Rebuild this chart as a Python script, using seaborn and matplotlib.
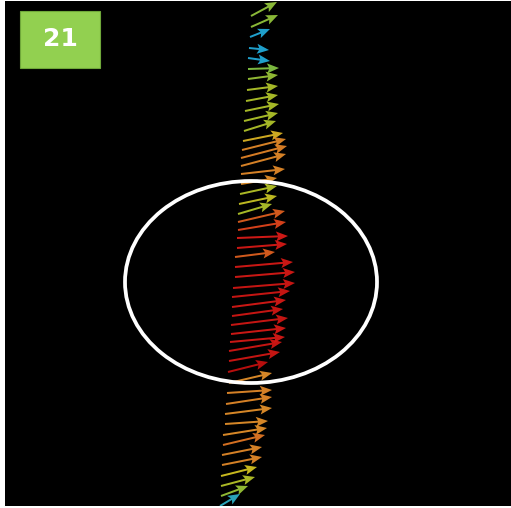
import numpy as np
import seaborn as sns
import matplotlib.pyplot as plt
from matplotlib.patches import Ellipse, Rectangle

# arrow tails and heads (pixel-like units, y grows downward)
tail_x = [251, 251, 250, 249, 248, 248, 248, 247, 246, 245, 244, 244, 243, 242, 241, 241, 241,
          241, 240, 239, 238, 238, 238, 237, 237, 235, 235, 235, 233, 232, 232, 232, 231, 231,
          230, 229, 229, 228, 229, 227, 226, 225, 225, 223, 223, 222, 222, 221, 221, 221, 220]
tail_y = [16, 27, 37, 48, 58, 69, 79, 90, 101, 111, 121, 131, 141, 150, 158, 166, 174,
          184, 194, 204, 214, 222, 230, 238, 248, 257, 267, 277, 288, 297, 307, 316, 325, 334,
          342, 351, 361, 372, 383, 393, 404, 414, 424, 435, 445, 455, 465, 476, 486, 496, 506]
head_x = [277, 278, 270, 269, 270, 279, 278, 278, 278, 279, 278, 276, 283, 286, 287, 286, 285,
          277, 277, 277, 272, 285, 286, 288, 287, 275, 293, 295, 295, 290, 286, 283, 288, 286,
          285, 282, 280, 268, 272, 272, 272, 272, 268, 267, 265, 262, 262, 257, 255, 248, 240]
head_y = [2, 15, 29, 50, 61, 68, 75, 86, 95, 104, 113, 121, 133, 139, 146, 154, 169,
          178, 186, 196, 204, 211, 222, 236, 244, 252, 262, 272, 283, 291, 300, 309, 318, 328,
          337, 342, 352, 362, 373, 390, 397, 408, 421, 428, 435, 447, 457, 467, 477, 486, 494]
# colour level of each arrow: 0 cyan ... 1 dark red
level = [0.2, 0.2, 0.0, 0.0, 0.0, 0.15, 0.22, 0.3, 0.3, 0.3, 0.3, 0.3, 0.48, 0.6, 0.62, 0.6, 0.6,
         0.58, 0.32, 0.38, 0.3, 0.72, 0.78, 0.88, 0.9, 0.72, 0.9, 0.9, 0.92, 0.92, 0.9, 0.92, 0.92, 0.9,
         0.9, 0.92, 0.92, 0.97, 0.58, 0.6, 0.6, 0.58, 0.58, 0.58, 0.66, 0.6, 0.6, 0.42, 0.32, 0.22, 0.02]

label = "21"

sns.set_style("dark")

cmap = sns.blend_palette(["#22aede", "#84c846", "#b0c82c", "#dcc820", "#e8962c",
                          "#e46620", "#e8201a", "#c00c0c"], as_cmap=True)

tx = np.array(tail_x, float)
ty = np.array(tail_y, float)
u = np.array(head_x, float) - tx
v = np.array(head_y, float) - ty

fig = plt.figure(figsize=(5.11, 5.08), dpi=100, facecolor="white")
ax = fig.add_axes([5 / 511, 2 / 508, 506 / 511, 505 / 508])
ax.set_facecolor("black")
ax.set_xlim(5, 511)
ax.set_ylim(506, 1)

ax.quiver(tx, ty, u, v, level, cmap=cmap, clim=(0, 1),
          angles="xy", scale_units="xy", scale=1, units="xy",
          width=2.0, headwidth=5, headlength=6, headaxislength=5, alpha=0.92)

ax.add_patch(Ellipse((251, 282), 252, 202, fill=False, edgecolor="white", lw=2.7))

ax.add_patch(Rectangle((20, 11), 80, 57, facecolor="#92d050", edgecolor="#6fa83a", lw=0.8))
ax.text(60, 39, label, color="white", fontsize=18, fontweight="bold",
        ha="center", va="center")

ax.set_xticks([])
ax.set_yticks([])
for s in ax.spines.values():
    s.set_visible(False)

fig.savefig("out.png", dpi=100, facecolor="white")
